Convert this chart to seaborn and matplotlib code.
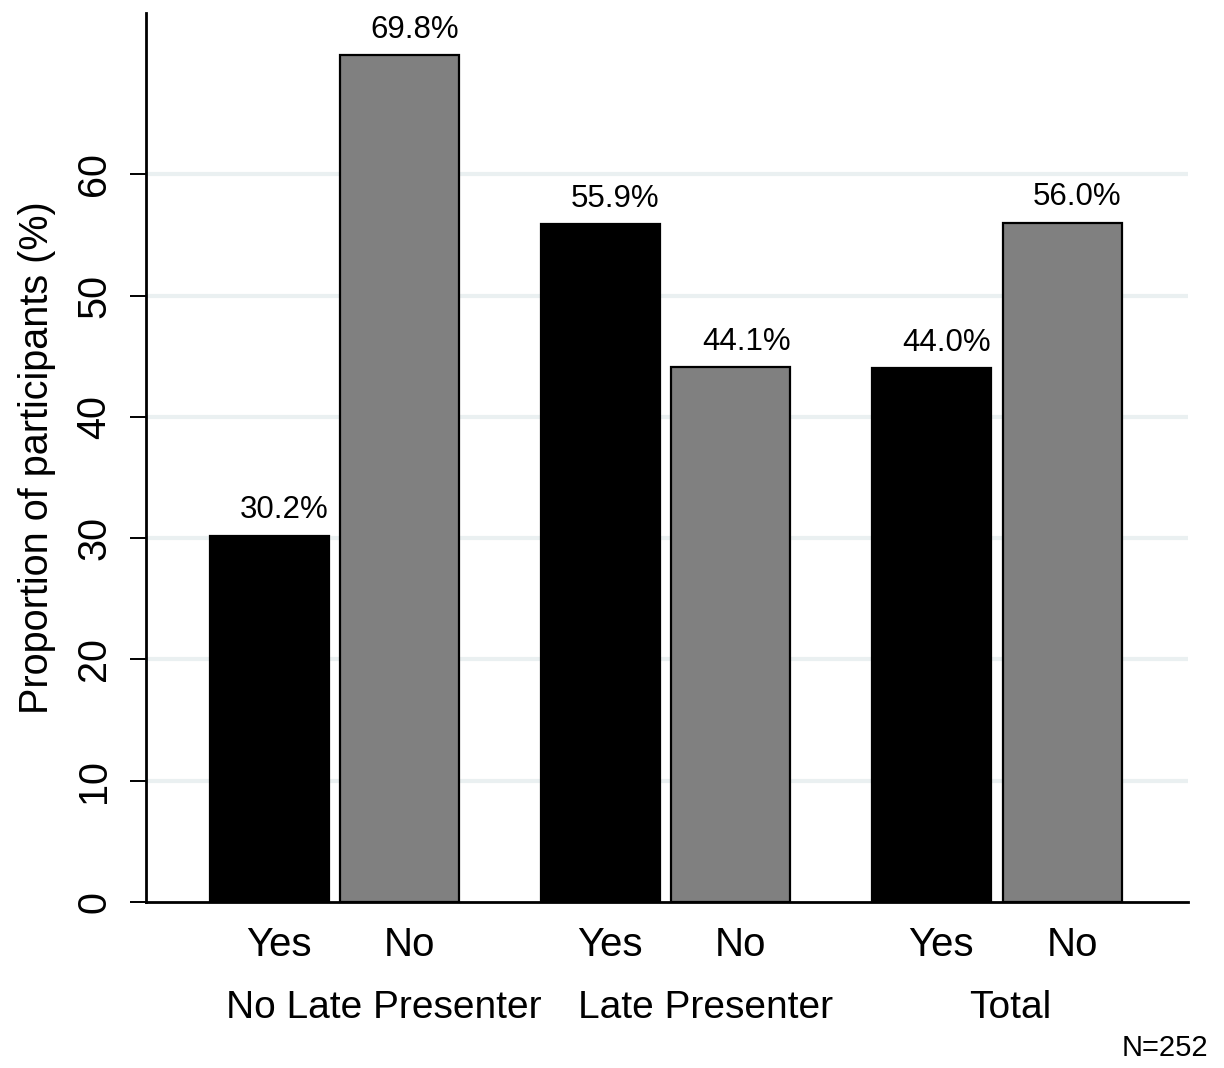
import numpy as np
import pandas as pd
import matplotlib
matplotlib.use("Agg")
import matplotlib.pyplot as plt
import matplotlib.transforms as mtransforms
import seaborn as sns

# data
groups = ["No Late Presenter", "Late Presenter", "Total"]
answers = ["Yes", "No"]
yes_values = [30.2, 55.9, 44.0]
no_values = [69.8, 44.1, 56.0]
group_label_shift = [0.15, 0.12, 0.04]  # Stata puts the over-labels a bit off centre
n_text = "N=252"

df = pd.DataFrame({
    "group": groups * 2,
    "answer": ["Yes"] * 3 + ["No"] * 3,
    "value": yes_values + no_values,
})

sns.set_style("white")
plt.rcParams["font.family"] = ["Liberation Sans", "DejaVu Sans"]
plt.rcParams["text.color"] = "black"
plt.rcParams["axes.labelcolor"] = "black"
plt.rcParams["xtick.color"] = "black"
plt.rcParams["ytick.color"] = "black"

fig = plt.figure(figsize=(12.24, 10.68), dpi=100)
ax = fig.add_axes([0.1193, 0.1554, 0.8513, 0.8324])

# light grid behind the bars
for v in range(10, 70, 10):
    ax.axhline(v, color="#EAF0F1", lw=3, zorder=0)

sns.barplot(data=df, x="group", y="value", hue="answer", order=groups,
            hue_order=answers, palette={"Yes": "black", "No": "#808080"},
            edgecolor="black", linewidth=1.6, width=0.79, gap=0.09,
            legend=False, ax=ax, zorder=2)

ax.set_ylim(0, 73.3)
ax.set_xlim(-0.569, 2.578)
ax.set_yticks(range(0, 70, 10))
ax.tick_params(axis="y", labelsize=28.5, length=11.5, width=1.4, left=True,
               direction="out", pad=12, labelrotation=90)
for t in ax.get_yticklabels():
    t.set_va("center")

# bar centres -> Yes/No tick labels, value labels
centres = []
for p in ax.patches:
    if p.get_height() <= 0:
        continue
    cx = p.get_x() + p.get_width() / 2
    centres.append(cx)
    ax.annotate(f"{p.get_height():.1f}%", xy=(p.get_x() + p.get_width(), p.get_height()),
                xytext=(0, 12.5), textcoords="offset points", ha="right",
                va="baseline", fontsize=22.5)
centres = sorted(centres)
ax.set_xticks(centres)
ax.set_xticklabels(answers * 3)
ax.tick_params(axis="x", length=0, labelsize=29, pad=17)
shift = mtransforms.ScaledTranslation(10 / 100, 0, fig.dpi_scale_trans)
for t in ax.get_xticklabels():
    t.set_transform(t.get_transform() + shift)

for i, g in enumerate(groups):
    ax.text(i + group_label_shift[i], -0.1195, g, transform=ax.get_xaxis_transform(),
            ha="center", va="center", fontsize=28)

ax.set_xlabel("")
ax.set_ylabel("Proportion of participants (%)", fontsize=28.5, labelpad=14)

for s in ["top", "right"]:
    ax.spines[s].set_visible(False)
for s in ["left", "bottom"]:
    ax.spines[s].set_color("black")
    ax.spines[s].set_linewidth(2)

fig.text(0.987, 0.019, n_text, ha="right", va="center", fontsize=21)

fig.savefig("out.png", dpi=100)
